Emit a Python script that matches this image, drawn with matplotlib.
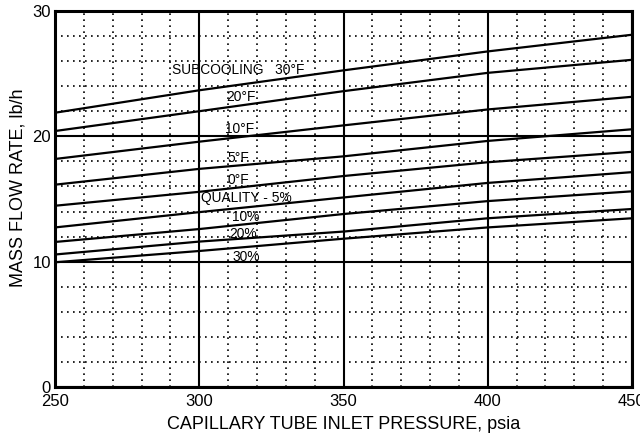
import numpy as np
import matplotlib.pyplot as plt
from matplotlib.ticker import MultipleLocator

plt.rcParams['font.family'] = ['Liberation Sans', 'DejaVu Sans']

# Inlet pressure, psia
pressure = [250, 300, 350, 400, 450]

# Mass flow rate, lb/h
sub_30 = [21.88, 23.67, 25.26, 26.77, 28.10]
sub_20 = [20.42, 22.00, 23.60, 25.06, 26.10]
sub_10 = [18.19, 19.57, 20.87, 22.14, 23.15]
sub_5 = [16.14, 17.40, 18.40, 19.63, 20.56]
sub_0 = [14.46, 15.57, 16.83, 17.93, 18.76]
qual_5 = [12.73, 13.95, 15.12, 16.28, 17.14]
qual_10 = [11.57, 12.60, 13.80, 14.83, 15.61]
qual_20 = [10.57, 11.60, 12.40, 13.46, 14.20]
qual_30 = [9.95, 10.85, 11.83, 12.73, 13.46]

curves = [sub_30, sub_20, sub_10, sub_5, sub_0, qual_5, qual_10, qual_20, qual_30]

# curve labels: text, x, y, alignment
labels = [
    ("SUBCOOLING   30\u00b0F", 290.5, 25.3, 'left'),
    ("20\u00b0F", 314.5, 23.15, 'center'),
    ("10\u00b0F", 314.0, 20.6, 'center'),
    ("5\u00b0F", 313.5, 18.25, 'center'),
    ("0\u00b0F", 313.5, 16.55, 'center'),
    ("QUALITY - 5%", 300.5, 15.1, 'left'),
    ("10%", 311.5, 13.6, 'left'),
    ("20%", 310.5, 12.2, 'left'),
    ("30%", 311.5, 10.4, 'left'),
]

fig = plt.figure(figsize=(6.4, 4.37), dpi=100)
ax = fig.add_axes([0.086, 0.1144, 0.9015, 0.8606])

for c in curves:
    ax.plot(pressure, c, color='black', linewidth=1.6, zorder=4)

for txt, x, y, ha in labels:
    ax.text(x, y, txt, fontsize=9.9, ha=ha, va='center', color='black', zorder=5)

ax.set_xlim(250, 450)
ax.set_ylim(0, 30)
ax.xaxis.set_major_locator(MultipleLocator(50))
ax.yaxis.set_major_locator(MultipleLocator(10))
ax.xaxis.set_minor_locator(MultipleLocator(10))
ax.yaxis.set_minor_locator(MultipleLocator(2))

ax.grid(which='major', color='black', linestyle='-', linewidth=1.5, zorder=2)
ax.grid(which='minor', color='black', linestyle=(0, (1, 2.6)), linewidth=1.2, zorder=1)
ax.set_axisbelow(True)

ax.tick_params(which='both', length=0, labelsize=12)
ax.tick_params(axis='x', pad=5)
ax.tick_params(axis='y', pad=3)
for s in ax.spines.values():
    s.set_linewidth(2.2)

ax.set_xlabel("CAPILLARY TUBE INLET PRESSURE, psia", fontsize=13, labelpad=5)
ax.set_ylabel("MASS FLOW RATE, lb/h", fontsize=13, labelpad=4, y=0.53)

fig.savefig("out.png", dpi=100)
